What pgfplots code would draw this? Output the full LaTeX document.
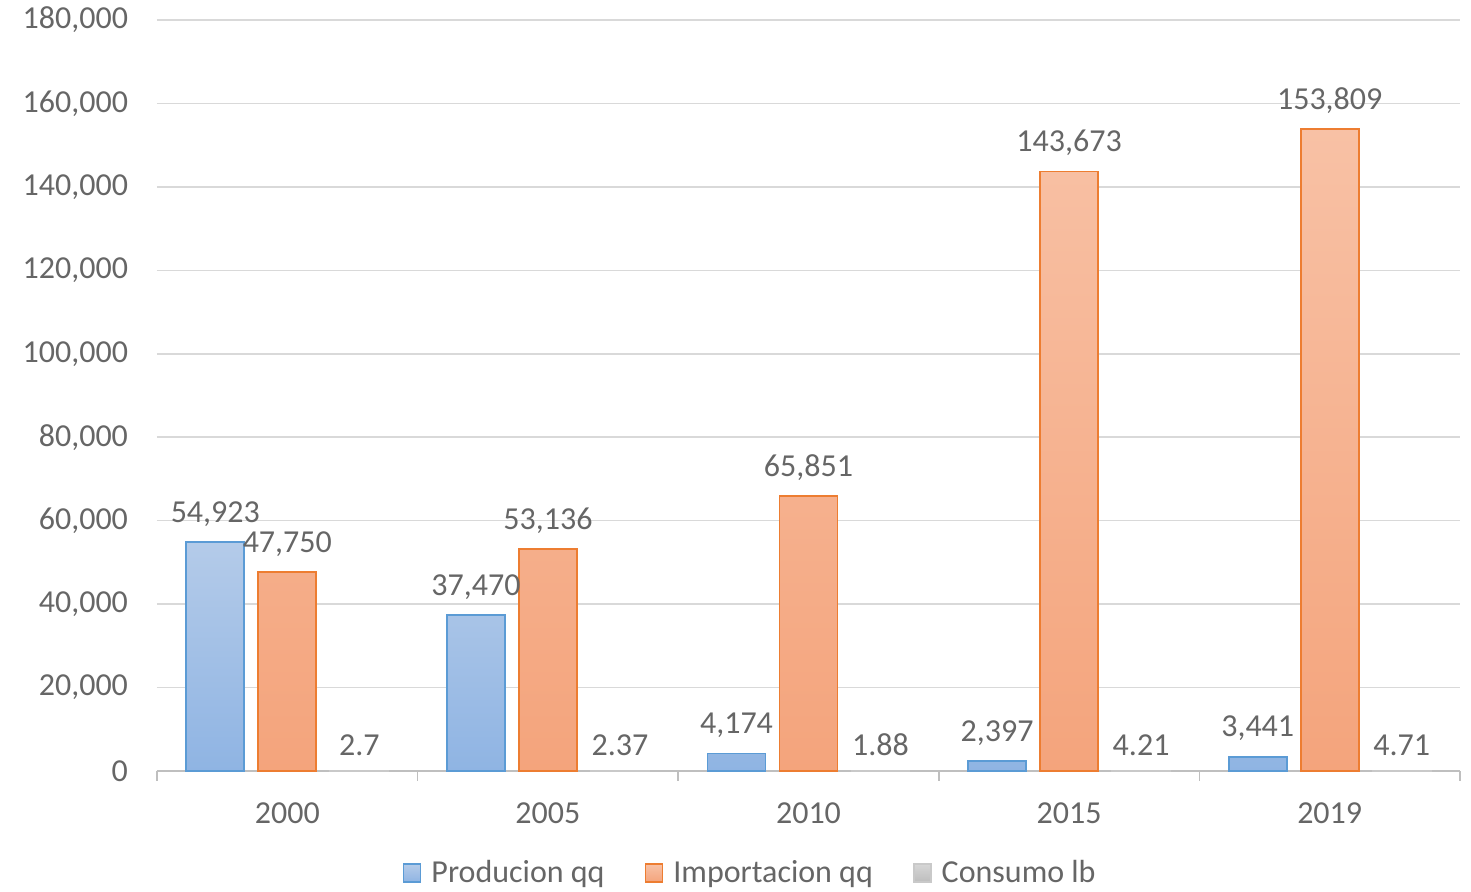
\documentclass[border=0pt]{standalone}
\usepackage{pgfplots}
\pgfplotsset{compat=1.18}
\usepackage{fontspec}
\setmainfont{Carlito}
\definecolor{txt}{HTML}{666666}
\definecolor{gridc}{HTML}{D9D9D9}
\definecolor{axc}{HTML}{BFBFBF}
\definecolor{bTop}{HTML}{B4CBE9}
\definecolor{bBot}{HTML}{8FB4E3}
\definecolor{bLine}{HTML}{5B9BD5}
\definecolor{oTop}{HTML}{F8C1A5}
\definecolor{oBot}{HTML}{F4A47C}
\definecolor{oLine}{HTML}{ED7D31}
\definecolor{gTop}{HTML}{D6D6D6}
\definecolor{gBot}{HTML}{BDBDBD}
\definecolor{gLine}{HTML}{A5A5A5}
\begin{document}
\begin{tikzpicture}
\useasboundingbox (-78.5pt,-60.5pt) rectangle (657pt,385.5pt);
\begin{axis}[
  scale only axis,
  width=651.5pt, height=375.5pt,
  at={(0,0)}, anchor=south west,
  xmin=-0.5, xmax=4.5, ymin=0, ymax=180000,
  ybar=7pt, bar width=29pt,
  xtick={0,1,2,3,4},
  xticklabels={2000,2005,2010,2015,2019},
  minor xtick={-0.5,0.5,1.5,2.5,3.5,4.5},
  ytick={0,20000,...,180000},
  major tick length=0pt,
  minor tick length=5pt,
  tick align=outside,
  minor tick style={axc, line width=0.8pt},
  axis x line*=bottom,
  axis y line*=left,
  y axis line style={draw=none},
  x axis line style={axc, line width=0.8pt, -},
  ymajorgrids,
  grid style={gridc, line width=0.8pt},
  tick label style={font=\fontsize{16pt}{18pt}\selectfont, text=txt},
  /pgf/number format/.cd, fixed, 1000 sep={,}, assume math mode=true, precision=2,
  /pgfplots/.cd,
  scaled y ticks=false,
  yticklabel style={xshift=-11pt},
  xticklabel style={yshift=-12.5pt},
  nodes near coords,
  every node near coord/.append style={font=\fontsize{16pt}{18pt}\selectfont, text=txt, yshift=4pt},
  legend style={draw=none, at={(0.456,-0.136)}, anchor=center, legend columns=-1,
    font=\fontsize{16pt}{18pt}\selectfont, text=txt,
    /tikz/every even column/.append style={column sep=18pt}},
  legend image code/.code={\draw[#1] (0pt,-4.5pt) rectangle (8.5pt,4.5pt);},
  clip=false,
]
\addplot[draw=bLine, line width=0.9pt, top color=bTop, bottom color=bBot] coordinates {(0,54923) (1,37470) (2,4174) (3,2397) (4,3441)};
\addplot[draw=oLine, line width=0.9pt, top color=oTop, bottom color=oBot] coordinates {(0,47750) (1,53136) (2,65851) (3,143673) (4,153809)};
\addplot[draw=gLine!60, line width=0.9pt, top color=gTop, bottom color=gBot] coordinates {(0,2.7) (1,2.37) (2,1.88) (3,4.21) (4,4.71)};
\legend{\hspace{3pt}Producion qq, \hspace{3pt}Importacion qq, \hspace{3pt}Consumo lb}
\end{axis}
\end{tikzpicture}
\end{document}
